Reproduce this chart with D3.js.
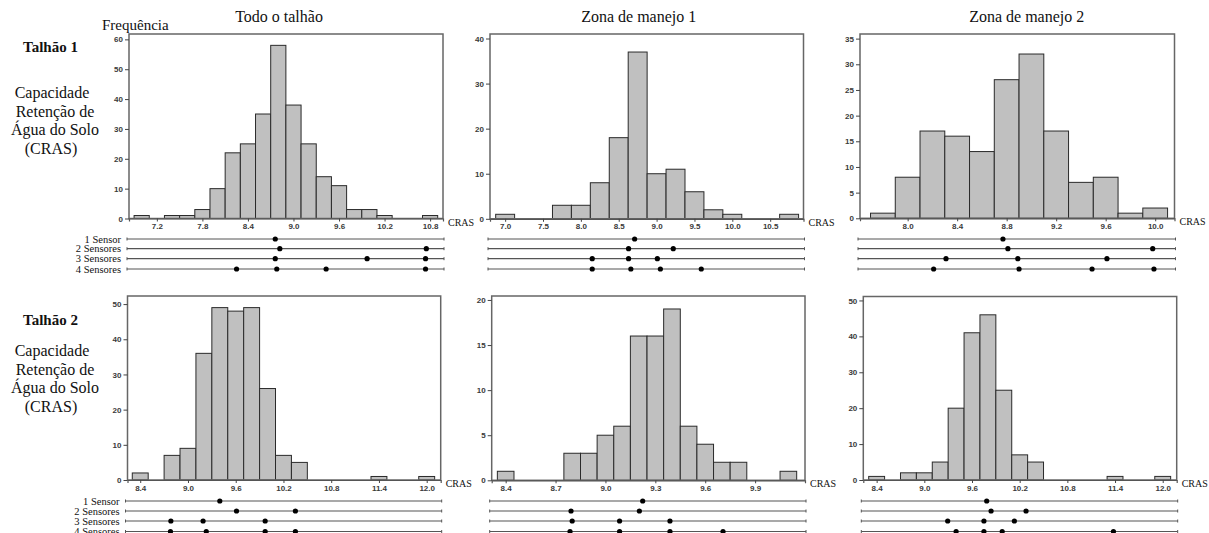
<!DOCTYPE html>
<html lang="pt">
<head>
<meta charset="utf-8">
<title>Histogramas CRAS</title>
<script src="https://d3js.org/d3.v7.min.js"></script>
<style>
  html, body { margin: 0; padding: 0; background: #fff; }
  svg { display: block; }
  .serif { font-family: "Liberation Serif", "Times New Roman", serif; fill: #111; }
  .axis text { font-family: "Liberation Sans", Arial, sans-serif; font-size: 8px; font-weight: bold; fill: #3a3a3a; }
  .axis line { stroke: #444; }
  .axis path { stroke: #555; }
</style>
</head>
<body>
<div id="chart"></div>
<script>
// --- dados ---
var titulos = ["Todo o talhão", "Zona de manejo 1", "Zona de manejo 2"];
var talhoes = ["Talhão 1", "Talhão 2"];
var rotuloLinhas = ["Capacidade", "Retenção de", "Água do Solo", "(CRAS)"];
var sensorNomes = ["1 Sensor", "2 Sensores", "3 Sensores", "4 Sensores"];

// Talhão 1
var t1TodoCentros = [7.0, 7.2, 7.4, 7.6, 7.8, 8.0, 8.2, 8.4, 8.6, 8.8, 9.0, 9.2, 9.4, 9.6, 9.8, 10.0, 10.2, 10.4, 10.6, 10.8];
var t1TodoFreq    = [1, 0, 1, 1, 3, 10, 22, 25, 35, 58, 38, 25, 14, 11, 3, 3, 1, 0, 0, 1];
var t1Z1Centros = [7.0, 7.25, 7.5, 7.75, 8.0, 8.25, 8.5, 8.75, 9.0, 9.25, 9.5, 9.75, 10.0, 10.25, 10.5, 10.75];
var t1Z1Freq    = [1, 0, 0, 3, 3, 8, 18, 37, 10, 11, 6, 2, 1, 0, 0, 1];
var t1Z2Centros = [7.8, 8.0, 8.2, 8.4, 8.6, 8.8, 9.0, 9.2, 9.4, 9.6, 9.8, 10.0];
var t1Z2Freq    = [1, 8, 17, 16, 13, 27, 32, 17, 7, 8, 1, 2];

// Talhão 2
var t2TodoCentros = [8.4, 8.6, 8.8, 9.0, 9.2, 9.4, 9.6, 9.8, 10.0, 10.2, 10.4, 10.6, 10.8, 11.0, 11.2, 11.4, 11.6, 11.8, 12.0];
var t2TodoFreq    = [2, 0, 7, 9, 36, 49, 48, 49, 26, 7, 5, 0, 0, 0, 0, 1, 0, 0, 1];
var t2Z1Centros = [8.4, 8.5, 8.6, 8.7, 8.8, 8.9, 9.0, 9.1, 9.2, 9.3, 9.4, 9.5, 9.6, 9.7, 9.8, 9.9, 10.0, 10.1];
var t2Z1Freq    = [1, 0, 0, 0, 3, 3, 5, 6, 16, 16, 19, 6, 4, 2, 2, 0, 0, 1];
var t2Z2Centros = [8.4, 8.6, 8.8, 9.0, 9.2, 9.4, 9.6, 9.8, 10.0, 10.2, 10.4, 10.6, 10.8, 11.0, 11.2, 11.4, 11.6, 11.8, 12.0];
var t2Z2Freq    = [1, 0, 2, 2, 5, 20, 41, 46, 25, 7, 5, 0, 0, 0, 0, 1, 0, 0, 1];

// posicao dos sensores (CRAS) para 1..4 sensores
var t1TodoSensores = [[8.76], [8.82, 10.75], [8.76, 9.97, 10.74], [8.25, 8.78, 9.43, 10.74]];
var t1Z1Sensores   = [[8.71], [8.63, 9.22], [8.15, 8.63, 9.01], [8.15, 8.66, 9.05, 9.59]];
var t1Z2Sensores   = [[8.77], [8.81, 9.98], [8.31, 8.89, 9.61], [8.21, 8.90, 9.49, 9.99]];
var t2TodoSensores = [[9.40], [9.61, 10.35], [8.785, 9.19, 9.97], [8.78, 9.23, 9.97, 10.35]];
var t2Z1Sensores   = [[9.224], [8.793, 9.204], [8.80, 9.085, 9.388], [8.787, 9.085, 9.388, 9.707]];
var t2Z2Sensores   = [[9.785], [9.84, 10.28], [9.294, 9.75, 10.133], [9.40, 9.75, 9.98, 11.38]];

// ticks
var t1TodoXTicks = [7.2, 7.8, 8.4, 9.0, 9.6, 10.2, 10.8];
var t1Z1XTicks   = [7.0, 7.5, 8.0, 8.5, 9.0, 9.5, 10.0, 10.5];
var t1Z2XTicks   = [8.0, 8.4, 8.8, 9.2, 9.6, 10.0];
var t2TodoXTicks = [8.4, 9.0, 9.6, 10.2, 10.8, 11.4, 12.0];
var t2Z1XTicks   = [8.4, 8.7, 9.0, 9.3, 9.6, 9.9];
var t2Z2XTicks   = [8.4, 9.0, 9.6, 10.2, 10.8, 11.4, 12.0];
var t1TodoYTicks = [0, 10, 20, 30, 40, 50, 60];
var t1Z1YTicks   = [0, 10, 20, 30, 40];
var t1Z2YTicks   = [0, 5, 10, 15, 20, 25, 30, 35];
var t2TodoYTicks = [0, 10, 20, 30, 40, 50];
var t2Z1YTicks   = [0, 5, 10, 15, 20];
var t2Z2YTicks   = [0, 10, 20, 30, 40, 50];

// --- layout ---
var W = 1209, H = 533;
var paineis = [
  {c: t1TodoCentros, f: t1TodoFreq, bin: 0.2,  s: t1TodoSensores, xt: t1TodoXTicks, yt: t1TodoYTicks,
   xd: [6.833, 10.97], yd: [0, 61.8], x0: 129,   x1: 443,   y0: 34,  y1: 218.5, rows: [239, 248.7, 258.7, 269]},
  {c: t1Z1Centros, f: t1Z1Freq, bin: 0.25, s: t1Z1Sensores, xt: t1Z1XTicks, yt: t1Z1YTicks,
   xd: [6.80, 10.94], yd: [0, 41.0], x0: 490,   x1: 803.5, y0: 34,  y1: 218.8, rows: [239, 248.7, 258.7, 269]},
  {c: t1Z2Centros, f: t1Z2Freq, bin: 0.2,  s: t1Z2Sensores, xt: t1Z2XTicks, yt: t1Z2YTicks,
   xd: [7.615, 10.156], yd: [0, 35.9], x0: 860, x1: 1174.5, y0: 34, y1: 218.3, rows: [239, 248.7, 258.7, 269]},
  {c: t2TodoCentros, f: t2TodoFreq, bin: 0.2, s: t2TodoSensores, xt: t2TodoXTicks, yt: t2TodoYTicks,
   xd: [8.24, 12.176], yd: [0, 52.3], x0: 127.5, x1: 440.7, y0: 296, y1: 480, rows: [501, 511, 521, 531.5]},
  {c: t2Z1Centros, f: t2Z1Freq, bin: 0.1, s: t2Z1Sensores, xt: t2Z1XTicks, yt: t2Z1YTicks,
   xd: [8.316, 10.20], yd: [0, 20.44], x0: 491.7, x1: 805, y0: 296, y1: 480.3, rows: [501, 511, 521, 531.5]},
  {c: t2Z2Centros, f: t2Z2Freq, bin: 0.2, s: t2Z2Sensores, xt: t2Z2XTicks, yt: t2Z2YTicks,
   xd: [8.232, 12.176], yd: [0, 51.1], x0: 863.3, x1: 1176.7, y0: 296.5, y1: 480, rows: [501, 511, 521, 531.5]}
];

var svg = d3.select("#chart").append("svg").attr("width", W).attr("height", H);

paineis.forEach(function(p, i) {
  var x = d3.scaleLinear().domain(p.xd).range([p.x0, p.x1]);
  var y = d3.scaleLinear().domain(p.yd).range([p.y1, p.y0]);
  var g = svg.append("g");

  var bins = p.c.map(function(c, k) { return {c: c, n: p.f[k]}; }).filter(function(d) { return d.n > 0; });

  g.selectAll("rect.bar").data(bins).enter().append("rect")
    .attr("class", "bar")
    .attr("x", function(d) { return x(d.c - p.bin / 2); })
    .attr("width", function(d) { return x(d.c + p.bin / 2) - x(d.c - p.bin / 2); })
    .attr("y", function(d) { return y(d.n); })
    .attr("height", function(d) { return y(0) - y(d.n); })
    .attr("fill", "#c0c0c0")
    .attr("stroke", "#2a2a2a")
    .attr("stroke-width", 1);

  // moldura
  g.append("rect")
    .attr("x", p.x0).attr("y", p.y0)
    .attr("width", p.x1 - p.x0).attr("height", p.y1 - p.y0)
    .attr("fill", "none").attr("stroke", "#666").attr("stroke-width", 1.5);

  // eixos
  g.append("g").attr("class", "axis")
    .attr("transform", "translate(" + p.x0 + ",0)")
    .call(d3.axisLeft(y).tickValues(p.yt).tickSize(4).tickPadding(2).tickFormat(d3.format("d")))
    .call(function(a) { a.select(".domain").remove(); });

  g.append("g").attr("class", "axis")
    .attr("transform", "translate(0," + p.y1 + ")")
    .call(d3.axisBottom(x).tickValues(p.xt).tickSize(3).tickPadding(2).tickFormat(d3.format(".1f")))
    .call(function(a) { a.select(".domain").attr("stroke", "#222").attr("stroke-width", 1.2); });

  g.append("text").attr("class", "serif")
    .attr("x", p.x1 + 5).attr("y", p.y1 + 7)
    .attr("font-size", "10px")
    .text("CRAS");

  // linhas dos sensores
  p.s.forEach(function(pts, r) {
    var yy = p.rows[r];
    var xa = p.x0 - 2, xb = p.x1 + 1;
    g.append("line").attr("x1", xa).attr("x2", xb).attr("y1", yy).attr("y2", yy)
      .attr("stroke", "#555").attr("stroke-width", 1.2);
    g.append("line").attr("x1", xa).attr("x2", xa).attr("y1", yy - 1.5).attr("y2", yy + 1.5)
      .attr("stroke", "#555").attr("stroke-width", 1);
    g.append("line").attr("x1", xb).attr("x2", xb).attr("y1", yy - 1.5).attr("y2", yy + 1.5)
      .attr("stroke", "#555").attr("stroke-width", 1);
    g.selectAll("circle.r" + r).data(pts).enter().append("circle")
      .attr("class", "r" + r)
      .attr("cx", function(d) { return x(d); })
      .attr("cy", yy)
      .attr("r", 2.6)
      .attr("fill", "#000");
    if (i % 3 === 0) {
      g.append("text").attr("class", "serif")
        .attr("x", p.x0 - 8).attr("y", yy + 3.5)
        .attr("text-anchor", "end")
        .attr("font-size", "10.5px")
        .text(sensorNomes[r]);
    }
  });

  if (i < 3) {
    svg.append("text").attr("class", "serif")
      .attr("x", [279, 638.7, 1026.7][i]).attr("y", 22)
      .attr("text-anchor", "middle")
      .attr("font-size", "16px")
      .text(titulos[i]);
  }
});

svg.append("text").attr("class", "serif")
  .attr("x", 102).attr("y", 29.5)
  .attr("font-size", "15px")
  .text("Frequência");

// rotulos da esquerda
[{t: 52, cap: 98}, {t: 325, cap: 356}].forEach(function(b, k) {
  svg.append("text").attr("class", "serif")
    .attr("x", 23).attr("y", b.t)
    .attr("font-size", "15px").attr("font-weight", "bold")
    .text(talhoes[k]);
  rotuloLinhas.forEach(function(s, j) {
    svg.append("text").attr("class", "serif")
      .attr("x", [52, 55, 55, 51][j]).attr("y", b.cap + j * 18.7)
      .attr("text-anchor", "middle")
      .attr("font-size", "16px")
      .text(s);
  });
});
</script>
</body>
</html>
